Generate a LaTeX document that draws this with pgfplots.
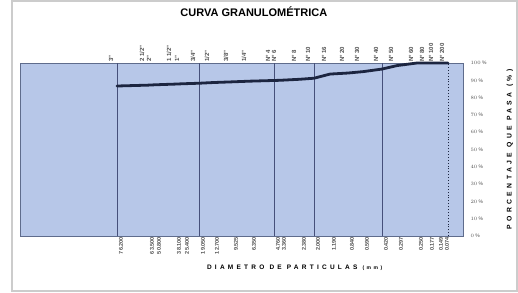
\documentclass[border=0pt]{standalone}
\usepackage{pgfplots}
\pgfplotsset{compat=1.18}
\usepackage{pgfplotstable}
\usepackage{fontspec}
\setmainfont{Liberation Sans}
\definecolor{bgblue}{HTML}{B7C7E8}
\definecolor{curve}{HTML}{1C2540}
\definecolor{gridline}{HTML}{46507A}
\definecolor{frame}{HTML}{5F6C8C}
\definecolor{lbl}{HTML}{505050}

% pos = horizontal position on the chart, diam = sieve opening (mm), pass = % passing
\pgfplotstableread{
pos diam pass
117 76.200 86.7
148 63.500 87.2
155 50.800 87.4
175 38.100 87.8
183 25.400 88.0
199 19.050 88.3
213 12.700 88.7
232 9.525 89.1
250 6.350 89.5
274 4.760 89.9
280 3.360 90.0
300 2.380 90.6
314 2.000 91.2
330 1.190 93.6
348 0.840 94.2
363 0.590 95.0
382 0.420 96.5
397 0.297 98.5
417 0.250 100
428 0.177 100
437 0.149 100
448 0.074 100
}\granul

\begin{document}
\begin{tikzpicture}
\useasboundingbox (0,0) rectangle (518pt,292pt);
\draw[gray!40, line width=1.6pt] (12pt,0.8pt) rectangle (517.2pt,291.2pt);

\begin{axis}[
  at={(20pt,56pt)}, anchor=south west,
  scale only axis, width=443pt, height=173pt,
  xmin=20, xmax=463, ymin=0, ymax=100,
  axis background/.style={fill=bgblue},
  axis line style={frame, line width=0.9pt},
  xtick={117,148,155,175,183,199,213,232,250,274,280,300,314,330,348,363,382,397,417,428,437,443},
  xticklabels={76.200,63.500,50.800,38.100,25.400,19.050,12.700,9.525,6.350,4.760,3.360,2.380,2.000,1.190,0.840,0.590,0.420,0.297,0.250,0.177,0.149,0.074},
  xticklabel style={rotate=90, anchor=east, font=\bfseries\fontsize{5.5}{6}\selectfont, text=lbl, inner sep=1pt, yshift=-4pt},
  major tick length=0pt,
  extra x ticks={117,199,274,314,382},
  extra x tick labels={},
  extra x tick style={grid=major, major grid style={gridline, line width=0.9pt}},
  ytick={0,10,...,100},
  yticklabel pos=right,
  yticklabel={\pgfmathprintnumber{\tick} \%},
  yticklabel style={font=\fontsize{5}{5}\selectfont, text=lbl, anchor=west, xshift=4pt},
  xlabel={\addfontfeature{LetterSpace=50}\bfseries DIAMETRO DE PARTICULAS {\fontsize{5}{5}\selectfont (mm)}},
  xlabel style={at={(axis description cs:0.62,-0.185)}, anchor=center, font=\fontsize{6.5}{7}\selectfont},
  ylabel={\addfontfeature{LetterSpace=50}\bfseries PORCENTAJE QUE PASA (\%)},
  ylabel style={at={(axis description cs:1.106,0.5)}, anchor=center, rotate=0, font=\fontsize{6.8}{7}\selectfont},
  title={\bfseries CURVA GRANULOMÉTRICA},
  title style={at={(axis description cs:0.528,1.26)}, anchor=center, font=\fontsize{11}{12}\selectfont},
  clip=false,
]
\addplot[curve, line width=2.8pt, line join=round, line cap=round] table[x=pos, y=pass]{\granul};
\end{axis}

\begin{axis}[
  at={(20pt,56pt)}, anchor=south west,
  scale only axis, width=443pt, height=173pt,
  xmin=20, xmax=463, ymin=0, ymax=100,
  axis x line*=top, axis y line=none,
  axis line style={draw=none},
  xtick={117,148,155,175,183,199,213,232,250,274,280,300,314,330,348,363,382,397,417,428,437,448},
  xticklabels={3",2 1/2",2",1 1/2",1",3/4",1/2",3/8",1/4",N° 4,N° 6,N° 8,N° 10,N° 16,N° 20,N° 30,N° 40,N° 50,N° 60,N° 80,N° 100,N° 200},
  xticklabel style={rotate=90, anchor=west, font=\bfseries\fontsize{6}{6}\selectfont, text=lbl, inner sep=1pt, yshift=6pt},
  major tick length=0pt,
  extra x ticks={448},
  extra x tick labels={},
  extra x tick style={grid=major, major grid style={curve, line width=0.9pt, dotted}},
]
\end{axis}
\end{tikzpicture}
\end{document}
